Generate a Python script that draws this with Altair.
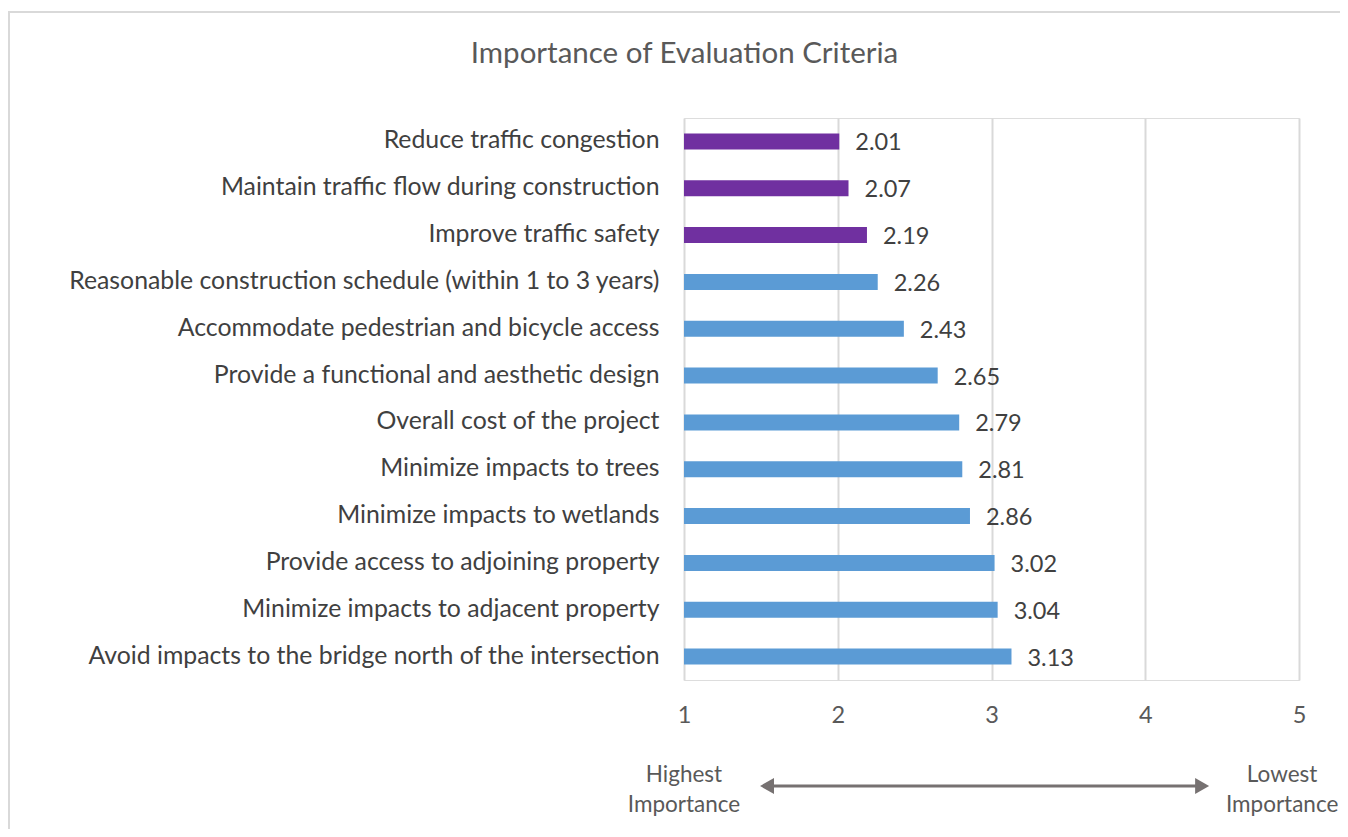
import altair as alt
import pandas as pd

criteria = [
    "Reduce traffic congestion",
    "Maintain traffic flow during construction",
    "Improve traffic safety",
    "Reasonable construction schedule (within 1 to 3 years)",
    "Accommodate pedestrian and bicycle access",
    "Provide a functional and aesthetic design",
    "Overall cost of the project",
    "Minimize impacts to trees",
    "Minimize impacts to wetlands",
    "Provide access to adjoining property",
    "Minimize impacts to adjacent property",
    "Avoid impacts to the bridge north of the intersection",
]
scores = [2.01, 2.07, 2.19, 2.26, 2.43, 2.65, 2.79, 2.81, 2.86, 3.02, 3.04, 3.13]
groups = ["Top"] * 3 + ["Other"] * 9

ticks = [1, 2, 3, 4, 5]
ends = ["Highest\nImportance", "Lowest\nImportance"]
end_pos = [1.0, 4.89]
arrow_pos = [1.54, 4.37]
arrow_shapes = ["triangle-left", "triangle-right"]

df = pd.DataFrame({"criterion": criteria, "score": scores, "group": groups})
ends_df = pd.DataFrame({"label": ends, "x": end_pos})
arrow_df = pd.DataFrame({"x": arrow_pos, "shape": arrow_shapes})
rule_df = pd.DataFrame({"x": [arrow_pos[0]], "x2": [arrow_pos[1]]})

FONT = "Lato"
xscale = alt.Scale(domain=[1, 5], nice=False, zero=False)

bars = alt.Chart(df).mark_bar(size=16).encode(
    y=alt.Y("criterion:N", sort=criteria, title=None,
            axis=alt.Axis(labelFontSize=24.8, labelColor="#404040", labelFont=FONT,
                          labelPadding=25, ticks=False, domain=False, grid=False,
                          labelLimit=800)),
    x=alt.X("score:Q", scale=xscale, title=None,
            axis=alt.Axis(values=ticks, grid=True, gridColor="#d9d9d9", gridWidth=2,
                          domain=False, ticks=False, labelFontSize=23.5, labelFont=FONT,
                          labelColor="#595959", labelPadding=23, format="d",
                          labelFlush=False)),
    x2=alt.datum(1),
    color=alt.Color("group:N", scale=alt.Scale(domain=["Top", "Other"],
                                               range=["#7030A0", "#5B9BD5"]), legend=None),
)

values = alt.Chart(df).mark_text(align="left", baseline="middle", dx=16, dy=2,
                                 fontSize=23.5, font=FONT, color="#404040").encode(
    y=alt.Y("criterion:N", sort=criteria),
    x=alt.X("score:Q", scale=xscale),
    text=alt.Text("score:Q", format=".2f"),
)

rule = alt.Chart(rule_df).mark_rule(color="#767171", strokeWidth=3, clip=False).encode(
    x=alt.X("x:Q", scale=xscale), x2="x2:Q", y=alt.value(668)
)

heads = alt.Chart(arrow_df).mark_point(filled=True, size=260, color="#767171",
                                      opacity=1, clip=False).encode(
    x=alt.X("x:Q", scale=xscale), y=alt.value(668),
    shape=alt.Shape("shape:N", scale=None, legend=None),
)

end_text = alt.Chart(ends_df).mark_text(align="center", baseline="middle", lineBreak="\n",
                                        lineHeight=30, fontSize=22.5, font=FONT,
                                        color="#595959", clip=False).encode(
    x=alt.X("x:Q", scale=xscale), y=alt.value(657), text="label:N",
)

border = alt.Chart(df).mark_rect(fill=None, stroke="#d9d9d9", strokeWidth=2, clip=False).encode(
    x=alt.value(-675), x2=alt.value(720), y=alt.value(-106), y2=alt.value(760)
)

chart = alt.layer(border, bars, values, rule, heads, end_text).properties(
    width=615, height=562,
    title=alt.TitleParams("Importance of Evaluation Criteria", fontSize=29.5, font=FONT,
                          fontWeight="normal", color="#595959", anchor="middle",
                          dx=-307, offset=-58),
    autosize=alt.AutoSizeParams(type="none"),
    padding={"left": 676, "top": 110, "right": 41, "bottom": 149},
).configure_view(stroke=None).configure(background="white")

chart.save("out.html", embed_options={"renderer": "svg", "actions": False})
